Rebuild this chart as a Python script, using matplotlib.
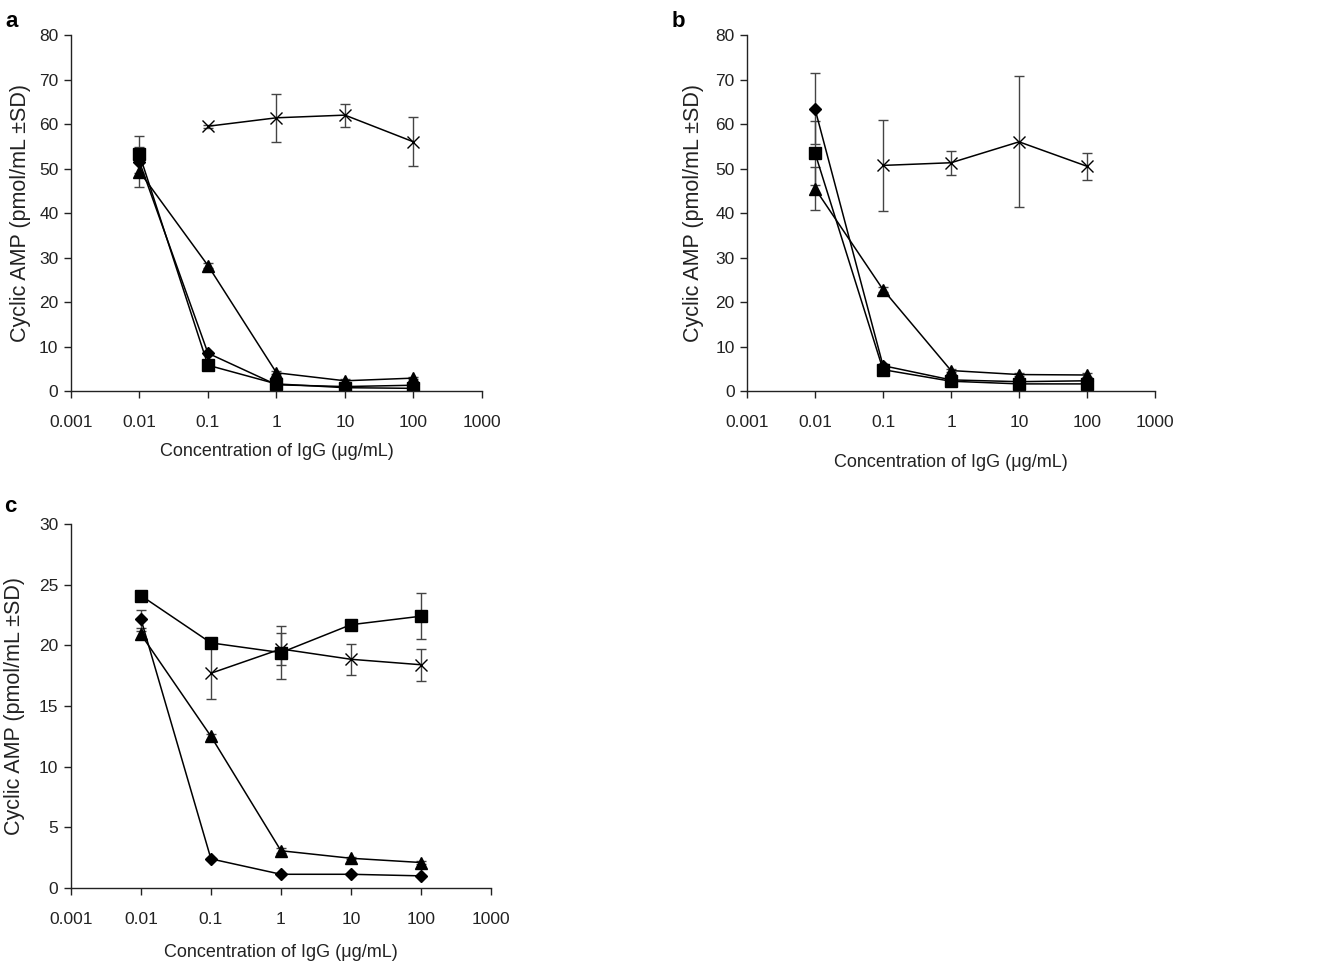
import numpy as np
import matplotlib.pyplot as plt

plt.rcParams['font.family'] = ['Liberation Sans', 'DejaVu Sans']

# x values (ug/mL)
conc = [0.01, 0.1, 1, 10, 100]
conc_x = [0.1, 1, 10, 100]

# panel a
a_dia = [51.5, 8.5, 1.4, 1.0, 1.3]
a_dia_sd = [3.4, 0.3, 0.2, 0.2, 0.2]
a_sq = [53.2, 5.8, 1.6, 0.75, 0.6]
a_sq_sd = [4.2, 0.3, 0.2, 0.1, 0.1]
a_tri = [49.3, 28.2, 4.1, 2.3, 2.9]
a_tri_sd = [3.4, 0.5, 0.3, 0.3, 0.3]
a_x = [59.5, 61.4, 62.0, 56.0]
a_x_sd = [0.3, 5.45, 2.6, 5.5]

# panel b
b_dia = [63.4, 5.7, 2.5, 2.1, 2.3]
b_dia_sd = [8.0, 0.3, 0.2, 0.2, 0.2]
b_sq = [53.5, 4.8, 2.2, 1.6, 1.6]
b_sq_sd = [7.2, 0.3, 0.2, 0.1, 0.1]
b_tri = [45.5, 22.8, 4.6, 3.7, 3.6]
b_tri_sd = [4.8, 0.5, 0.4, 0.4, 0.4]
b_x = [50.7, 51.3, 56.0, 50.5]
b_x_sd = [10.2, 2.7, 14.7, 3.1]

# panel c
c_dia = [22.15, 2.4, 1.13, 1.13, 1.0]
c_dia_sd = [0.75, 0.1, 0.05, 0.05, 0.05]
c_sq = [24.1, 20.2, 19.4, 21.7, 22.4]
c_sq_sd = [0.3, 0.2, 2.2, 0.2, 1.9]
c_tri = [20.9, 12.5, 3.07, 2.45, 2.1]
c_tri_sd = [0.3, 0.2, 0.2, 0.1, 0.1]
c_x = [17.7, 19.7, 18.85, 18.4]
c_x_sd = [2.1, 1.3, 1.3, 1.3]

xticks = [0.001, 0.01, 0.1, 1, 10, 100, 1000]
xticklabels = ['0.001', '0.01', '0.1', '1', '10', '100', '1000']

fig = plt.figure(figsize=(13.24, 9.65), dpi=100)

def panel(rect, dia, dia_sd, sq, sq_sd, tri, tri_sd, xs, xs_sd, ymax, ystep,
          letter, letter_xy, xlab_y, ylab_x):
    ax = fig.add_axes(rect)
    eb = dict(ecolor='#444444', elinewidth=1.0, capsize=3.5, capthick=1.0)
    ax.errorbar(conc_x, xs, yerr=xs_sd, color='black', lw=1.1, marker='x', ms=8.5, mew=1.0, **eb)
    ax.errorbar(conc, tri, yerr=tri_sd, color='black', lw=1.1, marker='^', ms=9, **eb)
    ax.errorbar(conc, sq, yerr=sq_sd, color='black', lw=1.1, marker='s', ms=8.5, **eb)
    ax.errorbar(conc, dia, yerr=dia_sd, color='black', lw=1.1, marker='D', ms=6, **eb)
    ax.set_xscale('log')
    ax.set_xlim(0.001, 1000)
    ax.set_ylim(0, ymax)
    ax.set_xticks(xticks)
    ax.set_xticklabels(xticklabels)
    ax.minorticks_off()
    ax.set_yticks(np.arange(0, ymax + 0.1, ystep))
    for s in ['top', 'right']:
        ax.spines[s].set_visible(False)
    for s in ['left', 'bottom']:
        ax.spines[s].set_linewidth(1.0)
        ax.spines[s].set_color('#222222')
    ax.tick_params(direction='out', length=5, width=1.0, labelsize=12.5, colors='#222222')
    ax.tick_params(axis='x', pad=12)
    ax.tick_params(axis='y', pad=4)
    ax.set_xlabel('Concentration of IgG (\u03bcg/mL)', fontsize=13, color='#222222')
    ax.set_ylabel('Cyclic AMP (pmol/mL \u00b1SD)', fontsize=15.5, color='#222222')
    ax.xaxis.set_label_coords(0.5, xlab_y)
    ax.yaxis.set_label_coords(ylab_x, 0.5)
    ax.text(letter_xy[0], letter_xy[1], letter, transform=ax.transAxes, fontsize=16,
            fontweight='bold', ha='left', va='center')
    return ax

panel([0.0536, 0.5948, 0.3104, 0.3689], a_dia, a_dia_sd, a_sq, a_sq_sd, a_tri, a_tri_sd,
      a_x, a_x_sd, 80, 10, 'a', (-0.16, 1.039), -0.146, -0.097)
panel([0.5642, 0.5948, 0.3082, 0.3689], b_dia, b_dia_sd, b_sq, b_sq_sd, b_tri, b_tri_sd,
      b_x, b_x_sd, 80, 10, 'b', (-0.184, 1.039), -0.177, -0.105)
panel([0.0536, 0.0798, 0.3172, 0.3772], c_dia, c_dia_sd, c_sq, c_sq_sd, c_tri, c_tri_sd,
      c_x, c_x_sd, 30, 5, 'c', (-0.16, 1.049), -0.154, -0.11)

fig.savefig('out.png', dpi=100)
